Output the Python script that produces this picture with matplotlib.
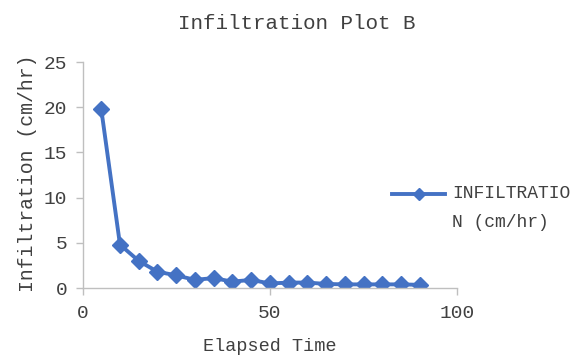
import matplotlib
matplotlib.use("Agg")
import matplotlib.pyplot as plt

elapsed_time = [5, 10, 15, 20, 25, 30, 35, 40, 45, 50, 55, 60, 65, 70, 75, 80, 85, 90]
infiltration = [19.8, 4.8, 3.0, 1.8, 1.4, 0.9, 1.1, 0.7, 0.9, 0.5, 0.6, 0.6, 0.45, 0.4, 0.4, 0.4, 0.4, 0.35]
series_label = "INFILTRATIO\nN (cm/hr)"
title = "Infiltration Plot B"
xlabel = "Elapsed Time"
ylabel = "Infiltration (cm/hr)"
xticks = [0, 50, 100]
yticks = [0, 5, 10, 15, 20, 25]

plt.rcParams['font.family'] = ['Liberation Mono', 'DejaVu Sans']

fig = plt.figure(figsize=(5.81, 3.61), dpi=100)
ax = fig.add_axes([0.142, 0.2022, 0.645, 0.626])

color = '#4472C4'
ax.plot(elapsed_time, infiltration, color=color, lw=2.8, marker='D', ms=8.5,
        mec=color, mfc=color, label=series_label)

ax.set_xlim(0, 100)
ax.set_ylim(0, 25)
ax.set_xticks(xticks)
ax.set_yticks(yticks)

gray = '#BFBFBF'
for s in ['top', 'right']:
    ax.spines[s].set_visible(False)
for s in ['left', 'bottom']:
    ax.spines[s].set_color(gray)
    ax.spines[s].set_linewidth(1.0)
ax.tick_params(axis='both', colors=gray, length=5, width=1.0, direction='out',
               labelcolor='#404040', labelsize=14)
ax.tick_params(axis='y', pad=6)
ax.tick_params(axis='x', pad=7)

fig.text(0.511, 0.935, title, ha='center', va='center', fontsize=15, color='#404040')
fig.text(0.465, 0.04, xlabel, ha='center', va='center', fontsize=13.3, color='#404040')
fig.text(0.047, 0.52, ylabel, ha='center', va='center', rotation=90, fontsize=14.2, color='#404040')

leg = ax.legend(loc='center left', bbox_to_anchor=(0.663, 0.4626), bbox_transform=fig.transFigure,
                frameon=False, fontsize=13, handlelength=2.9, handletextpad=0.4,
                markerscale=0.7, borderaxespad=0, labelcolor='#404040')
for t in leg.get_texts():
    t.set_linespacing(1.85)
    t.set_y(-14)

fig.savefig('out.png', dpi=100)
